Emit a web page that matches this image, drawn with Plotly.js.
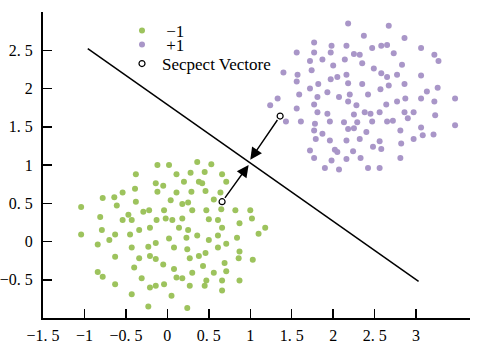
<!DOCTYPE html>
<html>
<head>
<meta charset="utf-8">
<script src="https://cdn.plot.ly/plotly-3.0.1.min.js"></script>
<style>html,body{margin:0;padding:0;background:#fff;}#chart{width:480px;height:348px;}</style>
</head>
<body>
<div id="chart"></div>
<script>
const greenX = [-0.12,0.02,0.36,0.53,-0.38,0.11,0.28,0.45,0.66,-0.14,-0.05,0.20,0.38,0.42,0.71,-0.39,-0.12,0.11,0.29,0.46,0.64,-0.78,-0.64,-0.54,-0.38,0.04,0.18,0.25,0.56,-1.04,-0.61,-0.29,-0.22,-0.04,0.30,0.47,0.65,0.82,1.00,-0.81,-0.47,-0.54,-0.43,-0.13,-0.02,0.06,0.18,0.50,0.61,0.87,1.02,-0.79,-0.63,-0.34,-0.21,0.14,0.25,0.66,1.18,-1.04,-0.70,-0.45,0.02,0.23,0.36,0.50,0.61,0.84,1.10,-0.84,-0.43,-0.23,-0.14,0.08,0.24,0.61,0.71,0.87,-0.63,-0.34,-0.21,-0.14,0.27,0.38,0.46,0.69,0.86,1.03,-0.40,-0.05,0.08,0.43,-0.84,-0.78,-0.31,0.11,0.18,0.30,0.56,0.71,-0.63,-0.21,-0.14,-0.04,0.27,0.45,0.47,0.66,0.66,0.87,-0.43,0.05,-0.23,0.24];
const greenY = [1.00,1.00,1.04,1.01,0.88,0.88,0.90,0.91,0.88,0.76,0.73,0.78,0.78,0.76,0.78,0.69,0.65,0.64,0.65,0.66,0.64,0.57,0.58,0.64,0.52,0.54,0.49,0.51,0.55,0.45,0.47,0.39,0.41,0.41,0.41,0.41,0.42,0.41,0.41,0.32,0.35,0.28,0.28,0.28,0.30,0.28,0.30,0.29,0.28,0.24,0.30,0.15,0.09,0.15,0.18,0.18,0.15,0.18,0.18,0.09,0.02,0.09,0.04,0.05,0.08,0.02,0.08,0.05,0.10,-0.04,-0.08,-0.07,-0.02,-0.08,-0.10,-0.08,-0.03,-0.13,-0.20,-0.22,-0.19,-0.23,-0.22,-0.19,-0.15,-0.28,-0.22,-0.24,-0.34,-0.30,-0.36,-0.32,-0.40,-0.46,-0.48,-0.47,-0.48,-0.41,-0.41,-0.39,-0.56,-0.60,-0.58,-0.56,-0.58,-0.58,-0.51,-0.51,-0.64,-0.51,-0.69,-0.71,-0.85,-0.87];

const purpleX = [2.18,2.67,2.37,2.86,1.77,1.98,2.16,2.47,2.58,2.65,3.06,1.56,1.77,1.97,2.25,2.32,2.73,3.22,3.27,1.72,1.87,2.14,2.00,2.35,2.83,1.40,1.74,1.57,1.56,1.97,2.05,2.16,2.49,2.58,2.65,2.77,3.06,1.82,2.18,2.35,2.67,2.86,3.26,1.59,1.72,1.93,2.20,2.42,2.57,3.13,1.33,1.81,2.07,2.18,2.77,2.87,3.06,3.22,3.47,1.24,1.77,2.28,1.56,2.64,1.81,1.93,2.25,2.38,2.45,2.56,2.86,2.97,3.23,2.90,1.43,1.61,1.78,1.96,2.13,2.29,2.47,2.65,2.72,2.18,2.25,1.77,2.40,2.81,3.06,3.47,1.79,1.87,2.32,2.56,2.97,3.08,3.21,1.96,2.16,2.82,2.48,2.58,1.72,2.02,2.05,2.24,1.77,2.16,2.33,2.81,1.90,2.07,2.42,2.56,1.98];
const purpleY = [2.85,2.82,2.69,2.66,2.60,2.56,2.56,2.53,2.56,2.57,2.53,2.47,2.47,2.47,2.45,2.44,2.46,2.44,2.36,2.36,2.38,2.38,2.30,2.33,2.31,2.21,2.24,2.18,2.09,2.12,2.15,2.18,2.26,2.20,2.15,2.18,2.17,2.06,2.07,2.06,2.04,2.06,2.01,1.92,2.00,1.95,1.92,1.92,1.99,1.96,1.87,1.89,1.89,1.83,1.83,1.87,1.87,1.83,1.87,1.78,1.79,1.78,1.74,1.79,1.69,1.67,1.66,1.69,1.67,1.69,1.69,1.69,1.65,1.61,1.57,1.57,1.54,1.57,1.56,1.56,1.57,1.57,1.58,1.47,1.48,1.45,1.43,1.45,1.49,1.52,1.34,1.41,1.34,1.31,1.34,1.39,1.40,1.32,1.32,1.28,1.24,1.21,1.19,1.20,1.17,1.18,1.09,1.08,1.09,1.09,0.96,0.94,0.96,0.96,1.06];

const svX = [0.66, 1.36];
const svY = [0.52, 1.64];
const arrowTipX = [0.98, 1.00];
const arrowTipY = [1.00, 1.07];

const boundaryX = [-0.96, 3.03];
const boundaryY = [2.52, -0.52];

const seriesNames = ['\u00a0\u22121', '\u00a0+1', 'Secpect Vectore'];

const xTickVals = [-1.5, -1, -0.5, 0, 0.5, 1, 1.5, 2, 2.5, 3];
const xTickText = ['\u22121. 5', '\u22121', '\u22120. 5', '0', '0. 5', '1', '1. 5', '2', '2. 5', '3'];
const yTickVals = [-0.5, 0, 0.5, 1, 1.5, 2, 2.5];
const yTickText = ['\u22120. 5', '0', '0. 5', '1', '1. 5', '2', '2. 5'];

const FONT = '"Liberation Serif", "Times New Roman", serif';
const GREEN = '#9DC35D';
const PURPLE = '#A996C8';

const traces = [
  {x: greenX, y: greenY, type: 'scatter', mode: 'markers', name: seriesNames[0],
   legend: 'legend', marker: {color: GREEN, size: 6}},
  {x: purpleX, y: purpleY, type: 'scatter', mode: 'markers', name: seriesNames[1],
   legend: 'legend2', marker: {color: PURPLE, size: 6}},
  {x: boundaryX, y: boundaryY, type: 'scatter', mode: 'lines', showlegend: false,
   line: {color: '#000', width: 1.5}},
  {x: svX, y: svY, type: 'scatter', mode: 'markers', name: seriesNames[2],
   legend: 'legend3', marker: {color: '#fff', size: 6, line: {color: '#000', width: 1.2}}}
];

const annotations = svX.map((sx, i) => ({
  x: arrowTipX[i], y: arrowTipY[i], xref: 'x', yref: 'y',
  ax: sx, ay: svY[i], axref: 'x', ayref: 'y',
  showarrow: true, arrowhead: 2, arrowsize: 1.7, arrowwidth: 1.4,
  arrowcolor: '#000', startstandoff: 3, standoff: 0, text: ''
}));

function legendAt(yPaper) {
  return {x: 0.185, y: yPaper, xanchor: 'left', yanchor: 'middle',
          bgcolor: 'rgba(0,0,0,0)', borderwidth: 0,
          font: {family: FONT, size: 17, color: '#000'}};
}

const layout = {
  width: 480, height: 348,
  margin: {l: 43, r: 10, t: 12, b: 30},
  paper_bgcolor: '#fff', plot_bgcolor: '#fff',
  font: {family: FONT, size: 16, color: '#000'},
  showlegend: true,
  legend: legendAt(0.938),
  legend2: legendAt(0.892),
  legend3: legendAt(0.830),
  xaxis: {range: [-1.5, 3.65], showgrid: false, zeroline: false, automargin: false,
          showline: true, linecolor: '#000', linewidth: 2,
          ticks: 'inside', ticklen: 9, tickwidth: 1.5, tickcolor: '#000',
          ticklabelstandoff: 2,
          tickvals: xTickVals, ticktext: xTickText,
          tickfont: {family: FONT, size: 16, color: '#000'}},
  yaxis: {range: [-1, 3], showgrid: false, zeroline: false, automargin: false,
          showline: true, linecolor: '#000', linewidth: 2,
          ticks: 'inside', ticklen: 9, tickwidth: 1.5, tickcolor: '#000',
          ticklabelstandoff: 5,
          tickvals: yTickVals, ticktext: yTickText,
          tickfont: {family: FONT, size: 16, color: '#000'}},
  annotations: annotations
};

Plotly.newPlot('chart', traces, layout, {displayModeBar: false, staticPlot: true});
</script>
</body>
</html>
